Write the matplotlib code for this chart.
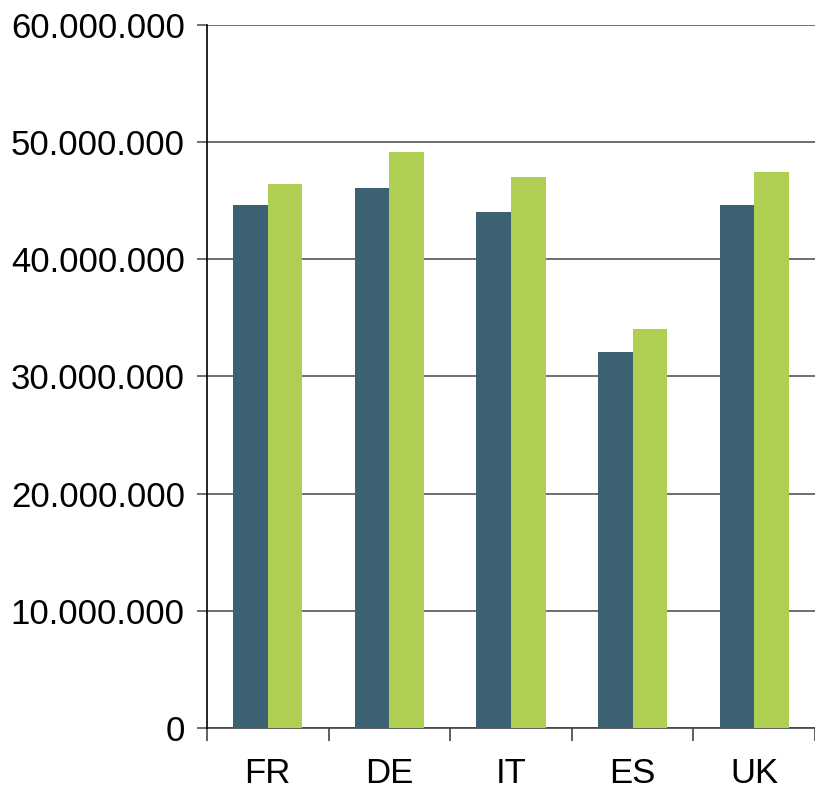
import numpy as np
import matplotlib
matplotlib.use("Agg")
import matplotlib.pyplot as plt
from matplotlib.ticker import FuncFormatter

# ====== Data =======
countries = ["FR", "DE", "IT", "ES", "UK"]
series_a = [44600000, 46100000, 44000000, 32100000, 44600000]  # dark blue
series_b = [46400000, 49100000, 47000000, 34000000, 47400000]  # green
yticks = [0, 10000000, 20000000, 30000000, 40000000, 50000000, 60000000]

dark = "#3B6173"
green = "#AECF52"

plt.rcParams['font.family'] = ['Liberation Sans', 'DejaVu Sans']

fig = plt.figure(figsize=(8.15, 7.89), dpi=100)
ax = fig.add_axes([0.254, 0.0773, 0.746, 0.8914])

x = np.arange(len(countries))
w = 0.285
ax.bar(x - w / 2, series_a, width=w, color=dark, zorder=3)
ax.bar(x + w / 2, series_b, width=w, color=green, zorder=3)

ax.set_ylim(0, 60000000)
ax.set_xlim(-0.5, 4.46)

# y axis
ax.set_yticks(yticks)
ax.yaxis.set_major_formatter(FuncFormatter(lambda v, p: "{:,.0f}".format(v).replace(",", ".")))
ax.grid(axis="y", color="#555555", linewidth=1.2, zorder=0)
ax.tick_params(axis="y", length=7, width=1.2, color="#555555", pad=9, labelsize=25, labelcolor="black")

# x axis: ticks at boundaries, labels at centers
ax.set_xticks(np.arange(-0.5, 4.6, 1.0))
ax.set_xticklabels([])
ax.set_xticks(x, minor=True)
ax.set_xticklabels(countries, minor=True)
ax.tick_params(axis="x", which="major", length=9, width=1.2, color="#444444")
ax.tick_params(axis="x", which="minor", length=0, pad=21, labelsize=25)

for s in ["top", "right"]:
    ax.spines[s].set_visible(False)
ax.spines["left"].set_color("black")
ax.spines["left"].set_linewidth(1.2)
ax.spines["bottom"].set_color("#444444")
ax.spines["bottom"].set_linewidth(1.2)
ax.spines["left"].set_zorder(4)

fig.savefig("out.png", dpi=100)
